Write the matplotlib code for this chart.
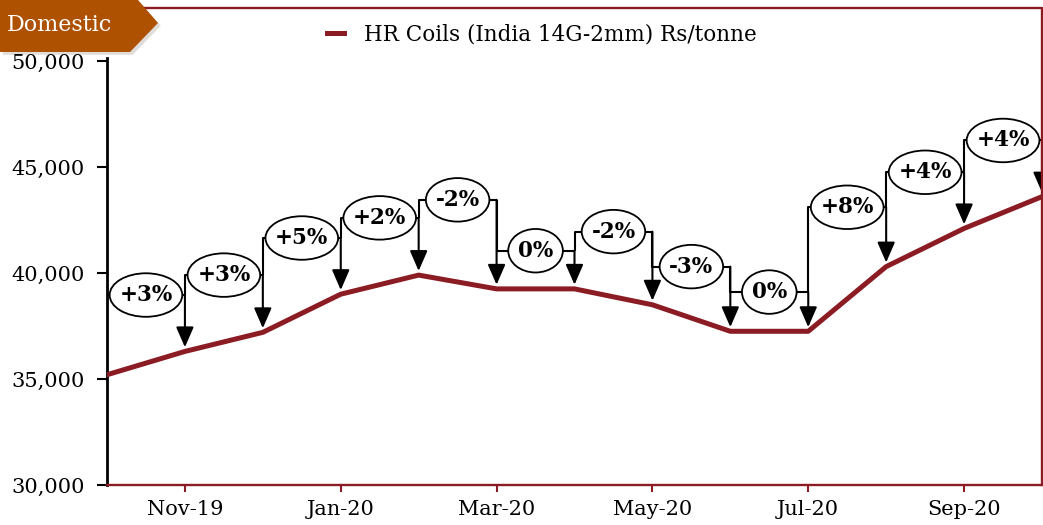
import matplotlib
matplotlib.use("Agg")
import matplotlib.pyplot as plt
import matplotlib.patheffects as pe
from matplotlib.patches import Polygon
from matplotlib.lines import Line2D
from matplotlib.path import Path
from matplotlib.transforms import Affine2D
from matplotlib.ticker import FuncFormatter

months = ["Oct-19", "Nov-19", "Dec-19", "Jan-20", "Feb-20", "Mar-20", "Apr-20",
          "May-20", "Jun-20", "Jul-20", "Aug-20", "Sep-20", "Oct-20"]
price = [35200, 36300, 37200, 39000, 39900, 39250, 39250,
         38500, 37250, 37250, 40300, 42100, 43600]
# month-on-month change labels and the height of the helper series they sit on
changes = ["+3%", "+3%", "+5%", "+2%", "-2%", "0%", "-2%", "-3%", "0%", "+8%", "+4%", "+4%"]
label_level = [38960, 39900, 41650, 42600, 43450, 41050, 41950, 40300, 39100, 43100, 44750, 46250]

RED = "#8C1C24"
W, H = 1043, 525

plt.rcParams["font.family"] = ["DejaVu Serif"]


def flat_ellipse(x0, y0, width, height, mutation_size):
    # ellipse a bit flatter than matplotlib's own "ellipse" box
    a = width / 2 + 0.45 * mutation_size
    b = height / 2 + 0.5 * mutation_size
    cx, cy = x0 + width / 2, y0 + height / 2
    return Affine2D().scale(a, b).translate(cx, cy).transform_path(Path.unit_circle())


fig = plt.figure(figsize=(W / 100, H / 100), dpi=100)
ax = fig.add_axes([107 / W, (H - 485) / H, (1042 - 107) / W, (485 - 58) / H])

x = list(range(len(months)))
ax.plot(x, price, color=RED, lw=3.6, zorder=5, label="HR Coils (India 14G-2mm) Rs/tonne")

# bracket + arrow for every month-on-month move
for i in range(1, len(months)):
    lev = label_level[i - 1]
    lo = price[0] if i == 1 else label_level[i - 2]
    ax.plot([x[i - 1], x[i - 1], x[i]], [lo, lev, lev], color="black", lw=1.5,
            zorder=3, solid_capstyle="butt")
    ax.annotate("", xy=(x[i], price[i]), xytext=(x[i], lev),
                arrowprops=dict(arrowstyle="-|>,head_length=0.62,head_width=0.27",
                                mutation_scale=20, color="black", lw=1.5,
                                shrinkA=0, shrinkB=3), zorder=4)
    ax.text((x[i - 1] + x[i]) / 2, lev, changes[i - 1], ha="center", va="center",
            fontsize=15.5, fontweight="bold", zorder=6,
            bbox=dict(boxstyle=flat_ellipse, fc="white", ec="black", lw=1.3))

ax.set_xlim(0, 12)
ax.set_ylim(30000, 50140)
ax.set_xticks(x[1::2])
ax.set_xticklabels(months[1::2])
ax.set_yticks(range(30000, 50001, 5000))
ax.yaxis.set_major_formatter(FuncFormatter(lambda v, p: f"{int(v):,}"))
ax.tick_params(axis="y", direction="out", length=7, width=1.5, color="black",
               labelsize=15, pad=9)
ax.tick_params(axis="x", direction="out", length=5, width=1.5, color=RED,
               labelsize=15, pad=6)

ax.spines["top"].set_visible(False)
ax.spines["right"].set_visible(False)
ax.spines["left"].set_color("black")
ax.spines["left"].set_linewidth(2)
ax.spines["bottom"].set_color(RED)
ax.spines["bottom"].set_linewidth(1.7)

# outer frame: top and right edges
fig.add_artist(Line2D([140 / W, 1042 / W, 1042 / W], [1 - 8 / H, 1 - 8 / H, 1 - 485 / H],
                      color=RED, lw=1.7, transform=fig.transFigure))

fig.legend(loc="center left", bbox_to_anchor=(327 / W, 1 - 35 / H), frameon=False,
           borderpad=0, borderaxespad=0, handlelength=0.8, handletextpad=0.9,
           fontsize=15.5)

# "Domestic" tag in the corner
pts = [(0, 0), (138, 0), (158, 23), (130, 52), (0, 52)]
badge = Polygon([(px / W, 1 - py / H) for px, py in pts], closed=True,
                transform=fig.transFigure, fc="#AE5100", ec="none", zorder=10,
                path_effects=[pe.SimplePatchShadow(offset=(2, -2), alpha=0.15), pe.Normal()])
fig.add_artist(badge)
fig.text(59 / W, 1 - 25 / H, "Domestic", color="white", fontsize=16,
         ha="center", va="center", zorder=11)

fig.savefig("out.png", dpi=100)
